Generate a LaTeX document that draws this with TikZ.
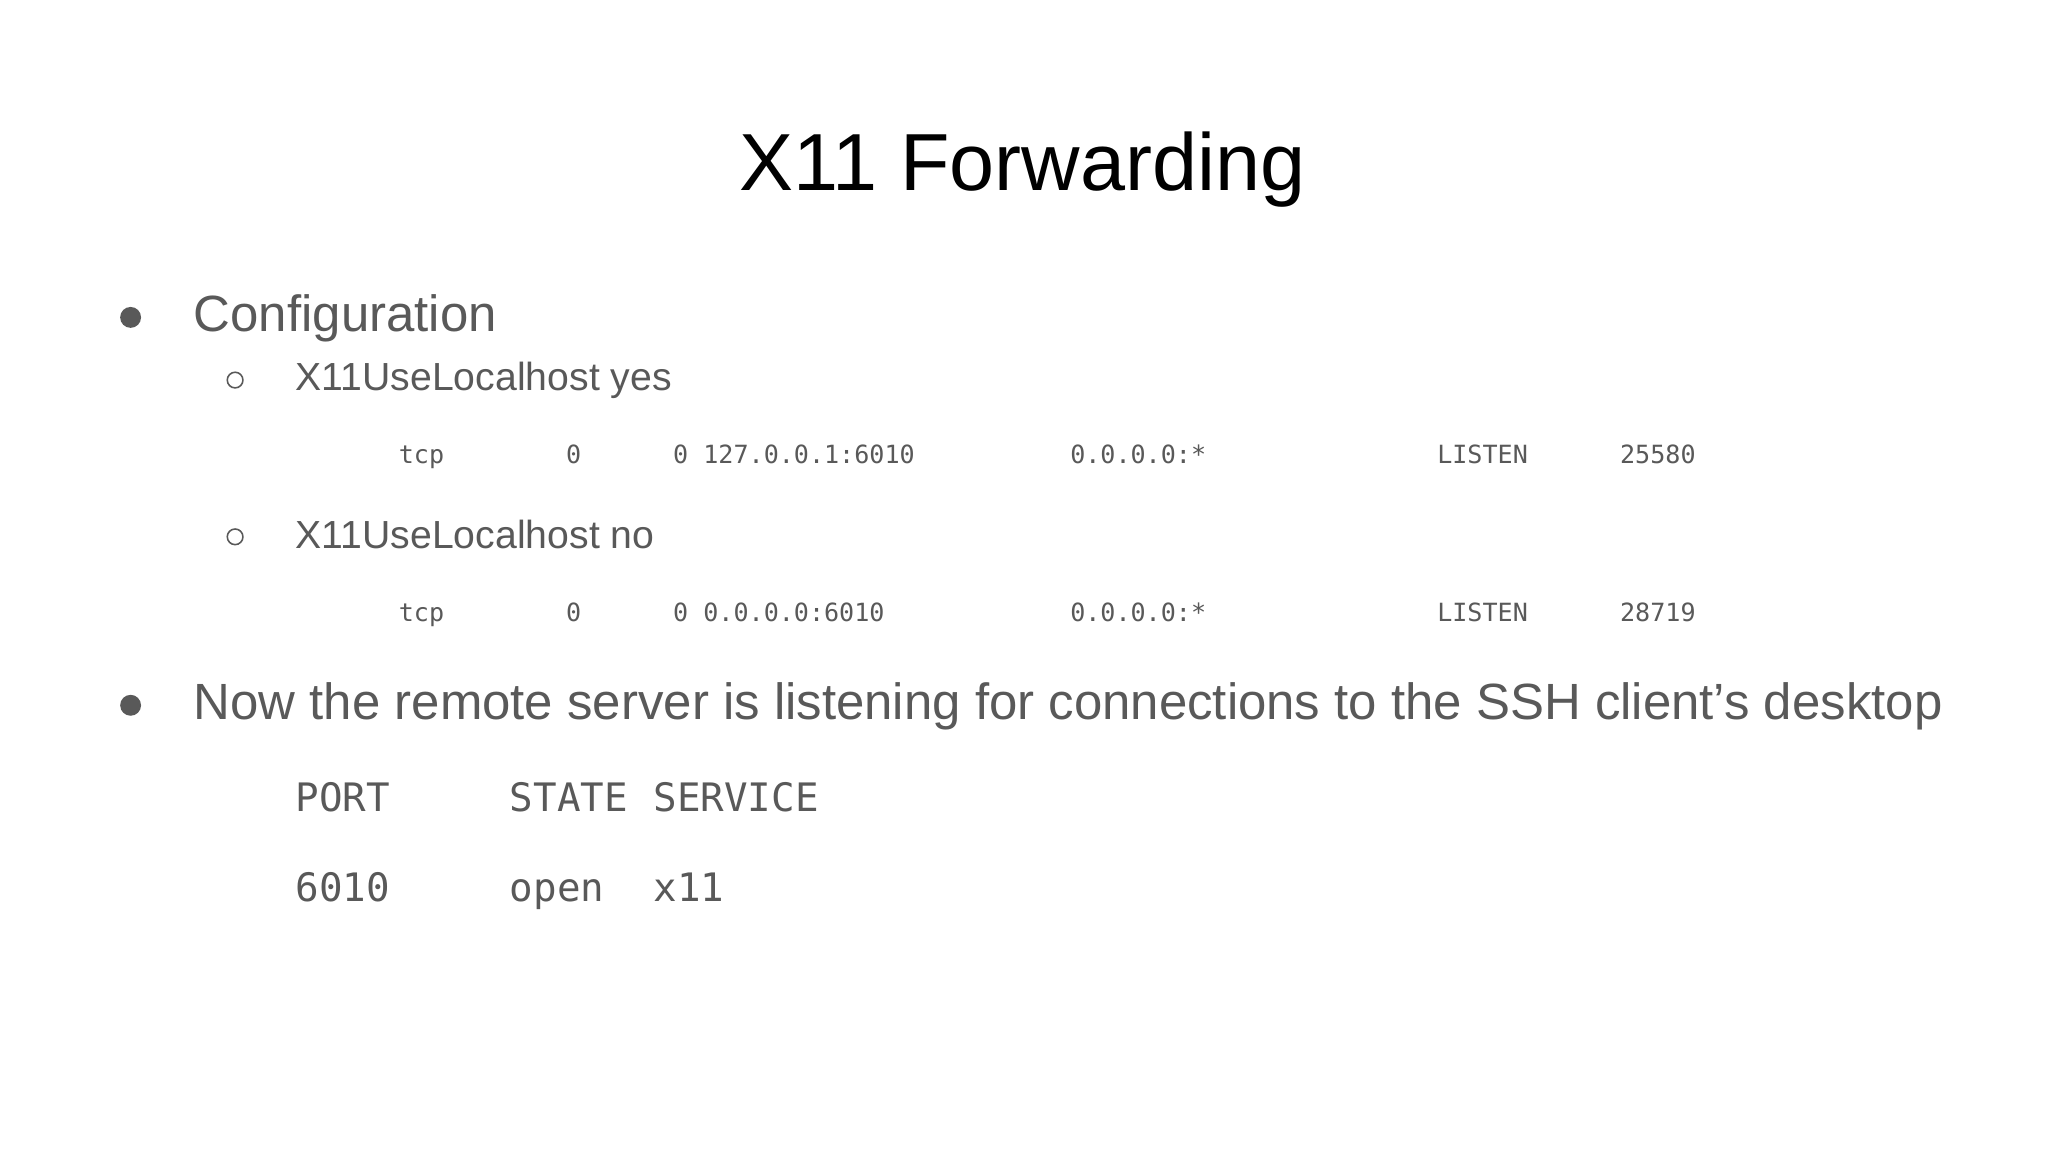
\documentclass[tikz,border=0pt]{standalone}
\usepackage{fontspec}
\setmainfont{Liberation Sans}
\setmonofont{DejaVu Sans Mono}
\definecolor{txt}{HTML}{595959}
\begin{document}
\begin{tikzpicture}[x=0.5pt,y=-0.5pt,
  tx/.style={anchor=base west,inner sep=0pt,text=txt},
  big/.style={tx,font=\fontsize{19.5}{22}\selectfont},
  sub/.style={tx,font=\fontsize{15}{18}\selectfont},
  smono/.style={tx,font=\ttfamily\fontsize{9.6}{11}\selectfont},
  bmono/.style={tx,font=\ttfamily\fontsize{15}{18}\selectfont},
  dot/.style={circle,fill=txt,inner sep=0pt,minimum size=8pt},
  ring/.style={circle,draw=txt,line width=0.6pt,inner sep=0pt,minimum size=6pt}]
\useasboundingbox[fill=white] (0,0) rectangle (1568,882);
\node[anchor=base,inner sep=0pt,font=\fontsize{31}{36}\selectfont] (title) at (783,146) {X11 Forwarding};
\node[dot] (b1) at (100,243) {};
\node[big] (t1) at (148,254) {Configuration};
\node[ring] (s1) at (180,291) {};
\node[sub] (t2) at (226,299) {X11UseLocalhost yes};
\foreach \x/\s [count=\i] in {305/tcp,433/0,515/0 127.0.0.1:6010,819/0.0.0.0:*,1100/LISTEN,1240/25580/sshd: user@pt}
  \node[smono] (ra\i) at (\x,355) {\s};
\node[ring] (s2) at (180,411) {};
\node[sub] (t3) at (226,420) {X11UseLocalhost no};
\foreach \x/\s [count=\i] in {305/tcp,433/0,515/0 0.0.0.0:6010,819/0.0.0.0:*,1100/LISTEN,1240/28719/sshd: user@pt}
  \node[smono] (rb\i) at (\x,476) {\s};
\node[dot] (b2) at (100,540) {};
\node[big] (t4) at (148,551) {Now the remote server is listening for connections to the SSH client’s desktop};
\foreach \x/\s [count=\i] in {226/PORT,390/STATE,500/SERVICE}
  \node[bmono] (pa\i) at (\x,621) {\s};
\foreach \x/\s [count=\i] in {226/6010\,/tcp,390/open,500/x11}
  \node[bmono] (pb\i) at (\x,690) {\s};
\end{tikzpicture}
\end{document}
